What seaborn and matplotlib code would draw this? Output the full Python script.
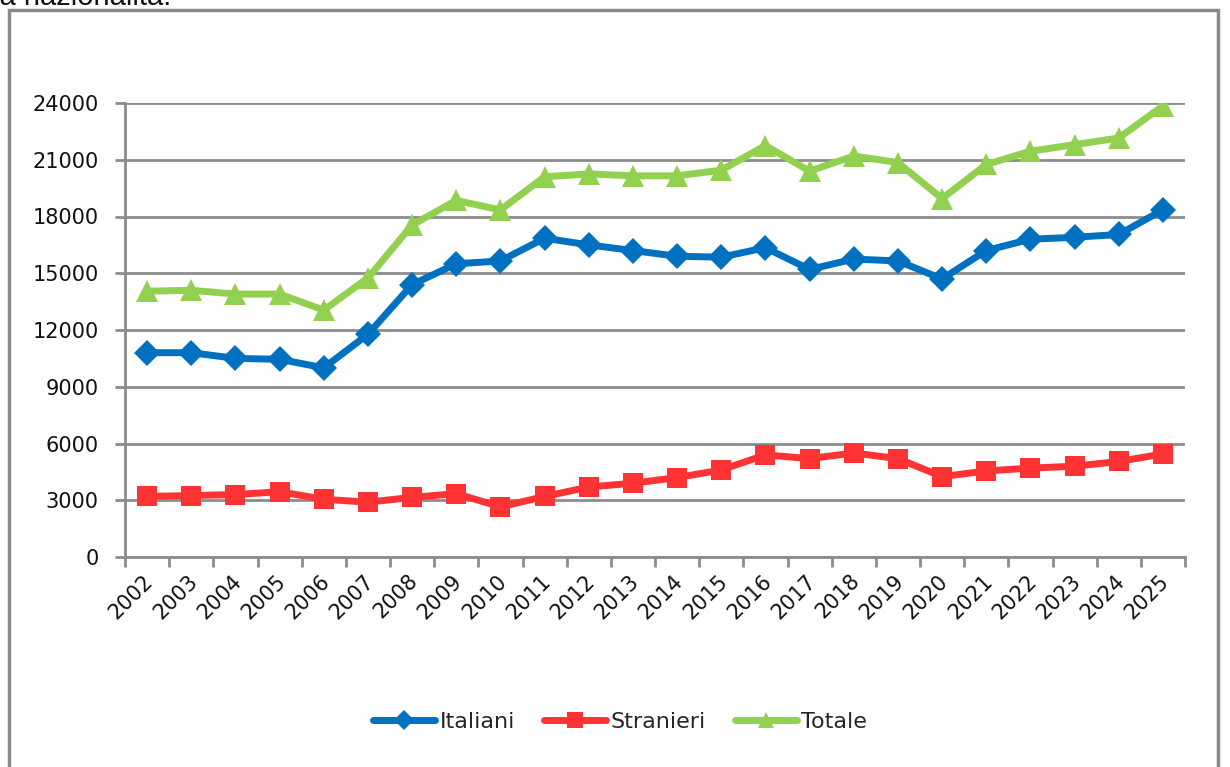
import matplotlib
matplotlib.use("Agg")
import matplotlib.pyplot as plt
import matplotlib.transforms as mtransforms
from matplotlib.patches import Rectangle
from matplotlib.ticker import FixedLocator
import seaborn as sns
import pandas as pd
import numpy as np

years = [str(y) for y in range(2002, 2026)]
italiani = [10800, 10800, 10500, 10450, 10000, 11770, 14400, 15500, 15650, 16850,
            16500, 16200, 15900, 15850, 16350, 15200, 15750, 15650, 14700, 16200,
            16800, 16900, 17050, 18350]
stranieri = [3200, 3250, 3300, 3450, 3050, 2900, 3150, 3350, 2650, 3200,
             3700, 3900, 4200, 4600, 5400, 5200, 5500, 5200, 4250, 4550,
             4700, 4800, 5050, 5450]
totale = [14050, 14100, 13900, 13900, 13050, 14750, 17550, 18850, 18350, 20100,
          20250, 20150, 20150, 20450, 21750, 20400, 21200, 20850, 18950, 20750,
          21450, 21800, 22150, 23850]
series_names = ["Italiani", "Stranieri", "Totale"]
yticks = [0, 3000, 6000, 9000, 12000, 15000, 18000, 21000, 24000]

sns.set_style("white")
plt.rcParams['font.family'] = ['DejaVu Sans']

W, H = 1230, 767
fig = plt.figure(figsize=(W / 100, H / 100), dpi=100)
ax = fig.add_axes([125 / W, 1 - 557 / H, (1185 - 125) / W, (557 - 103) / H])

df = pd.DataFrame({"x": np.arange(len(years)), "Italiani": italiani,
                   "Stranieri": stranieri, "Totale": totale})

styles = {
    "Italiani": dict(color="#0070C0", marker="D", markersize=13),
    "Stranieri": dict(color="#FF3333", marker="s", markersize=14.5),
    "Totale": dict(color="#92D050", marker="^", markersize=16),
}
for name in series_names:
    st = styles[name]
    sns.lineplot(data=df, x="x", y=name, ax=ax, color=st["color"], linewidth=5,
                 marker=st["marker"], markersize=st["markersize"],
                 markeredgewidth=0, label=name, zorder=3)

grid_c = "#8C8C8C"
ax.set_xlim(-0.5, len(years) - 0.5)
ax.set_ylim(0, 24000)
ax.set_yticks(yticks)
ax.set_yticklabels([str(v) for v in yticks])
ax.set_xticks(np.arange(len(years)))
ax.set_xticklabels(years)
ax.xaxis.set_minor_locator(FixedLocator(np.arange(len(years) + 1) - 0.5))
ax.set_xlabel("")
ax.set_ylabel("")

ax.grid(axis="y", color=grid_c, linewidth=2, zorder=1)
ax.set_axisbelow(True)
for s in ["top", "right"]:
    ax.spines[s].set_visible(False)
for s in ["left", "bottom"]:
    ax.spines[s].set_color(grid_c)
    ax.spines[s].set_linewidth(2)

ax.tick_params(axis="y", which="major", direction="out", length=7, width=2,
               color=grid_c, labelsize=15, labelcolor="#111111", pad=12, left=True)
ax.tick_params(axis="x", which="major", length=0, labelsize=15,
               labelcolor="#111111", pad=15)
ax.tick_params(axis="x", which="minor", direction="out", length=7, width=2,
               color=grid_c, bottom=True)

offset = mtransforms.ScaledTranslation(3 / 100, 0, fig.dpi_scale_trans)
for lab in ax.get_xticklabels():
    lab.set_rotation(45)
    lab.set_ha("right")
    lab.set_va("center")
    lab.set_rotation_mode("anchor")
    lab.set_transform(lab.get_transform() + offset)

handles, labels = ax.get_legend_handles_labels()
ax.legend(handles, labels, loc="center", bbox_to_anchor=(620 / W, 1 - 722 / H),
          bbox_transform=fig.transFigure, ncol=3, frameon=False, fontsize=16,
          handlelength=2.8, handletextpad=0.2, columnspacing=1.3, markerscale=0.75)

fig.add_artist(Rectangle((9 / W, -0.05), (1218 - 9) / W, 1.05 - 10 / H,
                         transform=fig.transFigure, fill=False,
                         edgecolor="#8A8A8A", linewidth=2.5))
fig.text(-7 / W, 1 - 5 / H, "la nazionalità.", fontsize=21,
         family=["Liberation Sans", "DejaVu Sans"], va="baseline", ha="left",
         color="#111111")

fig.savefig("out.png", dpi=100)
